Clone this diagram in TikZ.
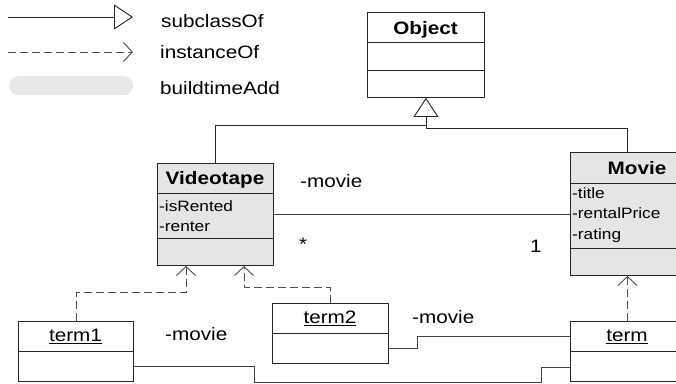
\documentclass[tikz,border=0pt]{standalone}
\usepackage{fontspec}
\setmainfont[FakeStretch=1.15]{Liberation Sans}
\usetikzlibrary{arrows.meta,calc}
\tikzset{
  lbl/.style={inner sep=0pt, font=\fontsize{18}{20}\selectfont},
  ttl/.style={inner sep=0pt, font=\fontsize{18}{20}\selectfont\bfseries},
  attr/.style={inner sep=0pt, anchor=base west, font=\fontsize{15}{17}\selectfont},
  umlbox/.style={draw=black!85, line width=0.9pt, rectangle, inner sep=0pt, anchor=north west},
  shaded/.style={umlbox, fill=gray!20},
  sep/.style={draw=black!85, line width=0.9pt},
  gen/.style={draw=black!85, line width=0.9pt, -{Triangle[open,length=19pt,width=25pt]}},
  inst/.style={draw=black!70, line width=0.9pt, dash pattern=on 8pt off 4pt, -{Straight Barb[length=9pt,width=19pt]}},
  assoc/.style={draw=black!75, line width=0.9pt},
}
\begin{document}
\begin{tikzpicture}[x=1pt,y=-1pt]
\useasboundingbox (0,0) rectangle (676,383);
\clip (0,0) rectangle (676,383);

% legend
\coordinate (s1) at (8,17);  \coordinate (s2) at (133,17);
\coordinate (d1) at (8,52);  \coordinate (d2) at (133,52);
\draw[gen] (s1) -- (s2);
\draw[inst] (d1) -- (d2);
\node[fill=gray!18, rounded corners=9.5pt, minimum width=124pt, minimum height=19pt, inner sep=0pt, anchor=north west] (lgbar) at (9,76) {};
\node[lbl, anchor=base west] (lsub) at (161,27) {subclassOf};
\node[lbl, anchor=base west] (linst) at (160,58) {instanceOf};
\node[lbl, anchor=base west] (lbuild) at (160,94) {buildtimeAdd};

% classes
\node[umlbox, minimum width=117pt, minimum height=85pt] (obj) at (367,12) {};
\draw[sep] ($(obj.north west)+(0,30)$) -- ($(obj.north east)+(0,30)$);
\draw[sep] ($(obj.north west)+(0,58)$) -- ($(obj.north east)+(0,58)$);
\node[ttl, anchor=base] (objt) at (425.5,34) {Object};

\node[shaded, minimum width=116pt, minimum height=102pt] (vt) at (157,163) {};
\draw[sep] ($(vt.north west)+(0,30)$) -- ($(vt.north east)+(0,30)$);
\draw[sep] ($(vt.north west)+(0,75)$) -- ($(vt.north east)+(0,75)$);
\node[ttl, anchor=base] (vtt) at (215,184) {Videotape};
\node[attr] (vta1) at (159,211) {-isRented};
\node[attr] (vta2) at (159,231) {-renter};

\node[shaded, minimum width=114pt, minimum height=123pt] (mv) at (570,152) {};
\draw[sep] ($(mv.north west)+(0,31)$) -- ($(mv.north east)+(0,31)$);
\draw[sep] ($(mv.north west)+(0,96)$) -- ($(mv.north east)+(0,96)$);
\node[ttl, anchor=base] (mvt) at (637,174) {Movie};
\node[attr] (mva1) at (572,198) {-title};
\node[attr] (mva2) at (572,218) {-rentalPrice};
\node[attr] (mva3) at (572,239) {-rating};

% instances
\node[umlbox, minimum width=115pt, minimum height=60pt] (t1) at (18,321) {};
\draw[sep] ($(t1.north west)+(0,30)$) -- ($(t1.north east)+(0,30)$);
\node[lbl, anchor=base] (t1t) at (75.5,341.5) {\underline{term1}};

\node[umlbox, minimum width=116pt, minimum height=60pt] (t2) at (272,303) {};
\draw[sep] ($(t2.north west)+(0,30)$) -- ($(t2.north east)+(0,30)$);
\node[lbl, anchor=base] (t2t) at (330,323.5) {\underline{term2}};

\node[umlbox, minimum width=114pt, minimum height=60pt] (tm) at (570,321) {};
\draw[sep] ($(tm.north west)+(0,30)$) -- ($(tm.north east)+(0,30)$);
\node[lbl, anchor=base] (tmt) at (627,341.5) {\underline{term}};

% generalisation
\draw[gen] (mv.north) |- ([yshift=-31pt]obj.south) -- (obj.south);
\draw[assoc, draw=black!85] (vt.north) |- ([yshift=-28pt]obj.south);

% instantiation
\draw[inst] (t1.north) |- ($(vt.south west)+(29,27)$) -- ($(vt.south west)+(29,0)$);
\draw[inst] (t2.north) |- ($(vt.south west)+(87,22)$) -- ($(vt.south west)+(87,0)$);
\draw[inst] (tm.north) -- (mv.south);

% associations
\draw[assoc] (vt.east) -- (mv.west |- vt.east);
\draw[assoc] ($(t2.east)+(0,15)$) -- ++(29,0) |- ($(tm.west)+(0,-15)$);
\draw[assoc] ($(t1.east)+(0,15)$) -- ++(121,0) -- ++(0,16) -- ++(287,0) |- ($(tm.west)+(0,16)$);

% association labels
\node[lbl, anchor=base west] (am1) at (300,187) {-movie};
\node[lbl, anchor=base west] (amul1) at (299,250) {*};
\node[lbl, anchor=base west] (amul2) at (530,252) {1};
\node[lbl, anchor=base west] (am2) at (165,340) {-movie};
\node[lbl, anchor=base west] (am3) at (412,323) {-movie};
\end{tikzpicture}
\end{document}
